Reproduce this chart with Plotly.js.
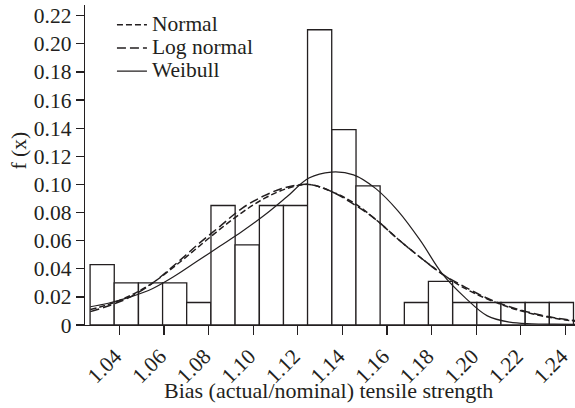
<!DOCTYPE html>
<html>
<head>
<meta charset="utf-8">
<script src="https://cdn.plot.ly/plotly-3.0.1.min.js"></script>
<style>html,body{margin:0;padding:0;background:#fff;}#chart{width:575px;height:408px;}</style>
</head>
<body>
<div id="chart"></div>
<script>
// Histogram bins (centers) and heights
const binCenters = [1.0323, 1.0431, 1.0540, 1.0648, 1.0756, 1.0865, 1.0973, 1.1082, 1.1190, 1.1298,
                    1.1407, 1.1515, 1.1623, 1.1732, 1.1840, 1.1949, 1.2057, 1.2165, 1.2274, 1.2382];
const binWidth = 0.01084;
const binHeights = [0.043, 0.030, 0.030, 0.030, 0.016, 0.085, 0.057, 0.085, 0.085, 0.210,
                    0.139, 0.099, 0.000, 0.016, 0.031, 0.016, 0.016, 0.016, 0.016, 0.016];

// Fitted curves
const curveX = [1.027, 1.035, 1.045, 1.055, 1.065, 1.075, 1.085, 1.095, 1.105, 1.115, 1.125, 1.135,
                1.145, 1.155, 1.165, 1.175, 1.185, 1.195, 1.205, 1.215, 1.225, 1.235, 1.245];
const normalY = [0.0110, 0.0145, 0.0210, 0.0300, 0.0420, 0.0550, 0.0680, 0.0800, 0.0900, 0.0970, 0.1000, 0.0950,
                 0.0870, 0.0750, 0.0610, 0.0480, 0.0360, 0.0260, 0.0185, 0.0125, 0.0080, 0.0048, 0.0026];
const lognormalY = [0.0095, 0.0135, 0.0200, 0.0300, 0.0430, 0.0570, 0.0700, 0.0830, 0.0920, 0.0980, 0.1000, 0.0950,
                    0.0860, 0.0750, 0.0610, 0.0480, 0.0360, 0.0270, 0.0190, 0.0130, 0.0085, 0.0052, 0.0030];
const weibullY = [0.0130, 0.0155, 0.0200, 0.0260, 0.0350, 0.0455, 0.0560, 0.0665, 0.0780, 0.0910, 0.1045, 0.1088,
                  0.1068, 0.0970, 0.0810, 0.0600, 0.0360, 0.0195, 0.0065, 0.0020, 0.0009, 0.0006, 0.0004];

const seriesNames = ["Normal", "Log normal", "Weibull"];

const yTickVals = [0, 0.02, 0.04, 0.06, 0.08, 0.10, 0.12, 0.14, 0.16, 0.18, 0.20, 0.22];
const yTickText = ["0", "0.02", "0.04", "0.06", "0.08", "0.10", "0.12", "0.14", "0.16", "0.18", "0.20", "0.22"];
const xTickVals = [1.04, 1.06, 1.08, 1.10, 1.12, 1.14, 1.16, 1.18, 1.20, 1.22, 1.24];
const xTickText = ["1.04", "1.06", "1.08", "1.10", "1.12", "1.14", "1.16", "1.18", "1.20", "1.22", "1.24"];
const xTitle = "Bias (actual/nominal) tensile strength";
const yTitle = "f (x)";

const ink = "#231f20";
const FONT = "Liberation Serif, Times New Roman, serif";
const big = s => '<span style="font-size:21.5px">' + s + '</span>';

const traces = [
  {
    type: "bar", x: binCenters, y: binHeights, width: binWidth,
    marker: {color: "#ffffff", line: {color: ink, width: 1.3}},
    showlegend: false, hoverinfo: "skip"
  },
  {
    type: "scatter", mode: "lines", x: curveX, y: normalY, name: big(seriesNames[0]),
    line: {color: ink, width: 1.5, dash: "6px,3px", shape: "spline", smoothing: 1}
  },
  {
    type: "scatter", mode: "lines", x: curveX, y: lognormalY, name: big(seriesNames[1]),
    line: {color: ink, width: 1.5, dash: "9px,4px", shape: "spline", smoothing: 1}
  },
  {
    type: "scatter", mode: "lines", x: curveX, y: weibullY, name: big(seriesNames[2]),
    line: {color: ink, width: 1.2, shape: "spline", smoothing: 1}
  }
];

const layout = {
  width: 575, height: 408,
  margin: {l: 85, r: 0, t: 5, b: 83, pad: 0},
  paper_bgcolor: "#ffffff", plot_bgcolor: "#ffffff",
  font: {family: FONT, size: 21.5, color: ink},
  showlegend: true,
  legend: {
    x: 0.055, y: 0.99, xanchor: "left", yanchor: "top",
    bgcolor: "rgba(0,0,0,0)", borderwidth: 0,
    font: {family: FONT, size: 15.5, color: ink},
    tracegroupgap: 0
  },
  barmode: "overlay",
  xaxis: {
    range: [1.0246, 1.2443],
    tickmode: "array", tickvals: xTickVals, ticktext: xTickText,
    tickangle: -45, ticklabeloverflow: "allow", ticklabelshift: -4,
    ticks: "outside", ticklen: 9, tickwidth: 1.3, tickcolor: ink,
    showline: true, linecolor: ink, linewidth: 1.3,
    showgrid: false, zeroline: false,
    tickfont: {family: FONT, size: 21.5, color: ink}
  },
  yaxis: {
    range: [0, 0.2276],
    tickmode: "array", tickvals: yTickVals, ticktext: yTickText,
    ticks: "outside", ticklen: 8, tickwidth: 1.3, tickcolor: ink,
    showline: true, linecolor: ink, linewidth: 1.3,
    showgrid: false, zeroline: false,
    tickfont: {family: FONT, size: 21.5, color: ink}
  },
  annotations: [
    {text: xTitle, xref: "paper", yref: "paper", x: 0.4964, y: -0.2047,
     xanchor: "center", yanchor: "middle", showarrow: false,
     font: {family: FONT, size: 22, color: ink}},
    {text: yTitle, xref: "paper", yref: "paper", x: -0.1347, y: 0.5453, textangle: -90,
     xanchor: "center", yanchor: "middle", showarrow: false,
     font: {family: FONT, size: 21.5, color: ink}}
  ]
};

Plotly.newPlot("chart", traces, layout, {staticPlot: true, displayModeBar: false});
</script>
</body>
</html>
